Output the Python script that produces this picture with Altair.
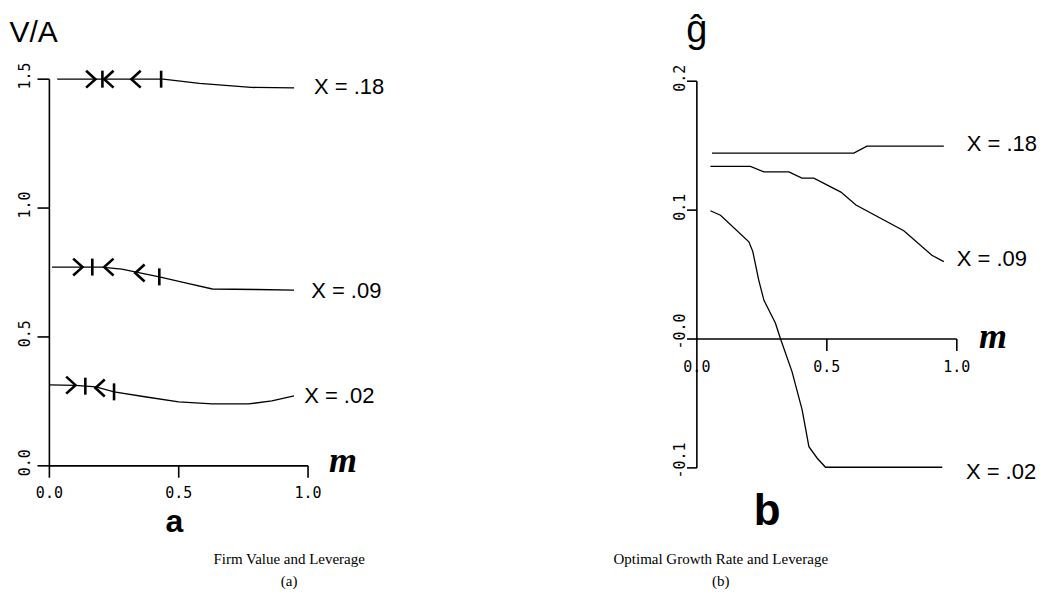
import altair as alt
import pandas as pd

# ---------------- Panel (a): Firm value V/A vs leverage m ----------------
a_m_18 = [0.03, 0.44, 0.58, 0.78, 0.946]
a_v_18 = [1.500, 1.500, 1.484, 1.468, 1.466]
a_m_09 = [0.01, 0.20, 0.28, 0.425, 0.53, 0.63, 0.80, 0.946]
a_v_09 = [0.771, 0.771, 0.763, 0.733, 0.709, 0.686, 0.684, 0.682]
a_m_02 = [0.0, 0.10, 0.18, 0.25, 0.375, 0.50, 0.63, 0.77, 0.86, 0.946]
a_v_02 = [0.314, 0.312, 0.306, 0.287, 0.267, 0.248, 0.240, 0.240, 0.252, 0.271]

# hand-drawn arrow / bar markers along the curves
a_mk_m = [0.16, 0.205, 0.23, 0.335, 0.432,
          0.11, 0.166, 0.23, 0.35, 0.425,
          0.083, 0.139, 0.196, 0.25]
a_mk_v = [1.50, 1.50, 1.50, 1.50, 1.50,
          0.771, 0.771, 0.771, 0.748, 0.733,
          0.313, 0.309, 0.302, 0.287]
a_mk_kind = ["right", "bar", "left", "left", "bar",
             "right", "bar", "left", "left", "bar",
             "right", "bar", "left", "bar"]

a_yticks = [0.0, 0.5, 1.0, 1.5]
a_ylabels = ["0.0", "0.5", "1.0", "1.5"]
a_xticks = [0.0, 0.5, 1.0]
a_xlabels = ["0.0", "0.5", "1.0"]

a_series_labels = ["X = .18", "X = .09", "X = .02"]
a_label_m = [1.023, 1.012, 0.985]
a_label_v = [1.469, 0.678, 0.271]

# ---------------- Panel (b): optimal growth rate g-hat vs leverage m ----------------
b_m_18 = [0.058, 0.604, 0.654, 0.95]
b_v_18 = [0.1442, 0.1442, 0.1496, 0.1496]
b_m_09 = [0.052, 0.206, 0.258, 0.354, 0.404, 0.45, 0.554, 0.612, 0.796, 0.904, 0.95]
b_v_09 = [0.134, 0.134, 0.1297, 0.1297, 0.1248, 0.1248, 0.114, 0.104, 0.084, 0.065, 0.060]
b_m_02 = [0.052, 0.091, 0.20, 0.215, 0.238, 0.258, 0.302, 0.322, 0.366, 0.405,
          0.431, 0.463, 0.495, 0.944]
b_v_02 = [0.0995, 0.096, 0.0754, 0.068, 0.0457, 0.030, 0.0124, 0.0, -0.0253, -0.055,
          -0.0835, -0.0925, -0.0995, -0.0995]

b_yticks = [-0.1, 0.0, 0.1, 0.2]
b_ylabels = ["-0.1", "-0.0", "0.1", "0.2"]
b_xticks = [0.5, 1.0]
b_xlabel_pos = [0.0, 0.5, 1.0]
b_xlabels = ["0.0", "0.5", "1.0"]

b_series_labels = ["X = .18", "X = .09", "X = .02"]
b_label_m = [1.038, 1.0, 1.035]
b_label_v = [0.151, 0.0624, -0.103]

captions_a = ["Firm Value and Leverage", "(a)"]
captions_b = ["Optimal Growth Rate and Leverage", "(b)"]

# ---------------- helpers ----------------
A_X = [-0.16, 1.86]
A_Y = [-0.5, 1.775]
B_X = [-0.64, 1.37]
B_Y = [-0.1984, 0.2566]
W, H = 523, 587

CHEV_R = "M -0.55 -1 L 0.55 0 L -0.55 1"
CHEV_L = "M 0.55 -1 L -0.55 0 L 0.55 1"
BAR = "M 0 -1 L 0 1"


def xs(dom):
    return alt.X("m:Q", scale=alt.Scale(domain=dom, nice=False, zero=False), axis=None)


def ys(dom):
    return alt.Y("v:Q", scale=alt.Scale(domain=dom, nice=False, zero=False), axis=None)


def curves(series, xd, yd):
    rows = []
    for name, ms, vs in series:
        for m, v in zip(ms, vs):
            rows.append({"series": name, "m": m, "v": v})
    return alt.Chart(pd.DataFrame(rows)).mark_line(
        color="black", strokeWidth=1.3
    ).encode(x=xs(xd), y=ys(yd), detail="series:N", order="m:Q")


def axes(xd, yd, ymax, ymin, yt, xt, ytick_len, xtick_len):
    rows = [
        {"m": 0.0, "m2": 0.0, "v": ymin, "v2": ymax},
        {"m": 0.0, "m2": 1.0, "v": 0.0, "v2": 0.0},
    ]
    for t in yt:
        rows.append({"m": -ytick_len, "m2": 0.0, "v": t, "v2": t})
    for t in xt:
        rows.append({"m": t, "m2": t, "v": 0.0, "v2": -xtick_len})
    return alt.Chart(pd.DataFrame(rows)).mark_rule(
        color="black", strokeWidth=1.6
    ).encode(x=xs(xd), x2=alt.X2("m2:Q"), y=ys(yd), y2=alt.Y2("v2:Q"))


def texts(xd, yd, ms, vs, labels, font, size, align="center", angle=0,
          weight="normal", style="normal"):
    df = pd.DataFrame({"m": ms, "v": vs, "t": labels})
    kw = dict(font=font, fontSize=size, align=align, baseline="middle",
              color="black", fontWeight=weight, fontStyle=style)
    if angle:
        kw["angle"] = angle
    return alt.Chart(df).mark_text(**kw).encode(x=xs(xd), y=ys(yd), text="t:N")


MONO = "DejaVu Sans Mono"
HAND = "Liberation Sans"
SERIF = "Liberation Serif"

# ---------------- panel (a) ----------------
a_curves = curves([("x18", a_m_18, a_v_18), ("x09", a_m_09, a_v_09),
                   ("x02", a_m_02, a_v_02)], A_X, A_Y)
a_axes = axes(A_X, A_Y, 1.5, 0.0, a_yticks, a_xticks, 0.046, 0.046)
a_marks = alt.Chart(pd.DataFrame({"m": a_mk_m, "v": a_mk_v, "kind": a_mk_kind})).mark_point(
    filled=False, color="black", strokeWidth=2.6, size=289, opacity=1
).encode(
    x=xs(A_X), y=ys(A_Y),
    shape=alt.Shape("kind:N", scale=alt.Scale(domain=["right", "left", "bar"],
                                              range=[CHEV_R, CHEV_L, BAR]), legend=None),
)
a_ylab = texts(A_X, A_Y, [-0.093] * 4, [t + 0.012 for t in a_yticks], a_ylabels, MONO, 15, angle=270)
a_xlab = texts(A_X, A_Y, a_xticks, [-0.1035] * 3, a_xlabels, MONO, 15)
a_slab = texts(A_X, A_Y, a_label_m, a_label_v, a_series_labels, HAND, 22, align="left")
a_mlab = texts(A_X, A_Y, [1.081], [0.019], ["m"], SERIF, 36, align="left",
               weight="bold", style="italic")
a_title = texts(A_X, A_Y, [-0.154], [1.678], ["V/A"], HAND, 30, align="left")
a_letter = texts(A_X, A_Y, [0.483], [-0.218], ["a"], HAND, 32, weight="bold")
a_cap = texts(A_X, A_Y, [0.927, 0.927], [-0.360, -0.446], captions_a, SERIF, 15)

left = alt.layer(a_axes, a_curves, a_marks, a_ylab, a_xlab, a_slab, a_mlab,
                 a_title, a_letter, a_cap).properties(width=W, height=H)

# ---------------- panel (b) ----------------
b_curves = curves([("x18", b_m_18, b_v_18), ("x09", b_m_09, b_v_09),
                   ("x02", b_m_02, b_v_02)], B_X, B_Y)
b_axes = axes(B_X, B_Y, 0.2, -0.1, b_yticks, b_xticks, 0.038, 0.0093)
b_ylab = texts(B_X, B_Y, [-0.063] * 4,
               [t + (0.0058 if lab.startswith("-") else 0.0023) for t, lab in zip(b_yticks, b_ylabels)],
               b_ylabels, MONO, 15, angle=270)
b_xlab = texts(B_X, B_Y, b_xlabel_pos, [-0.0217] * 3, b_xlabels, MONO, 15)
b_slab = texts(B_X, B_Y, b_label_m, b_label_v, b_series_labels, HAND, 22, align="left")
b_mlab = texts(B_X, B_Y, [1.085], [0.0016], ["m"], SERIF, 36, align="left",
               weight="bold", style="italic")
b_title = texts(B_X, B_Y, [0.0], [0.239], ["ĝ"], HAND, 38)
b_letter = texts(B_X, B_Y, [0.27], [-0.134], ["b"], HAND, 44, weight="bold")
b_cap = texts(B_X, B_Y, [0.092, 0.092], [-0.1705, -0.1876], captions_b, SERIF, 15)

right = alt.layer(b_axes, b_curves, b_ylab, b_xlab, b_slab, b_mlab,
                  b_title, b_letter, b_cap).properties(width=W, height=H)

chart = alt.hconcat(left, right, spacing=0).properties(
    padding=0, background="white"
).configure_view(stroke=None)

chart.save("out.html", embed_options={"renderer": "svg", "actions": False})
